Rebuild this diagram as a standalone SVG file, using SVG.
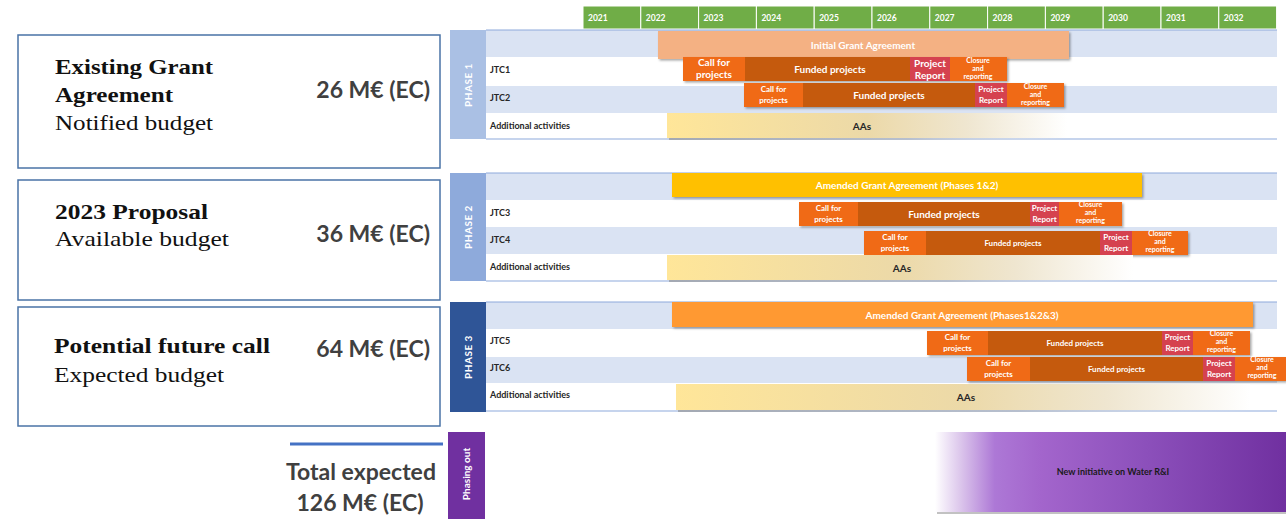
<svg xmlns="http://www.w3.org/2000/svg" width="1286" height="519" viewBox="0 0 1286 519">
<defs>
<style>
.yr{fill:#70ad47;stroke:#ffffff;stroke-width:1}
.yt{font-family:Lato,"Liberation Sans",sans-serif;font-weight:bold;font-size:8.5px;fill:#ffffff}
.rb{fill:#dae3f3}
.rw{fill:#ffffff}
.bl{stroke:#8eaadb;stroke-width:1.2}
.lbl{font-family:Lato,"Liberation Sans",sans-serif;font-weight:bold;font-size:9px;fill:#262626}
.pl{font-family:Lato,"Liberation Sans",sans-serif;font-weight:bold;font-size:10px;fill:#ffffff;letter-spacing:0.5px}
.call{fill:#f06a15}
.fund{fill:#c55a11}
.rep{fill:#d5434f}
.clo{fill:#f06a15}
.bt{font-family:Lato,"Liberation Sans",sans-serif;font-weight:bold;fill:#ffffff;text-anchor:middle}
.s10{font-size:10px}
.s8{font-size:8px}
.s7{font-size:7px}
.aa{font-family:Lato,"Liberation Sans",sans-serif;font-weight:bold;font-size:10px;fill:#262626;text-anchor:middle}
.box{fill:#ffffff;stroke:#4a73a6;stroke-width:1.5}
.sb{font-family:"Liberation Serif",serif;font-weight:bold;font-size:21px;fill:#111111}
.sr{font-family:"Liberation Serif",serif;font-size:21px;fill:#111111}
.me{font-family:Lato,"Liberation Sans",sans-serif;font-weight:bold;font-size:23px;fill:#404040;text-anchor:end}
.tot{font-family:Lato,"Liberation Sans",sans-serif;font-weight:bold;font-size:23px;fill:#404040;text-anchor:middle}
</style>
<filter id="sh" x="-5%" y="-20%" width="110%" height="150%">
<feDropShadow dx="1.5" dy="1.5" stdDeviation="1" flood-color="#000000" flood-opacity="0.35"/>
</filter>
<linearGradient id="aag" x1="0" y1="0" x2="1" y2="0">
<stop offset="0" stop-color="#ffe699"/>
<stop offset="0.5" stop-color="#ecd9a8"/>
<stop offset="0.75" stop-color="#efe6d0"/>
<stop offset="1" stop-color="#ffffff"/>
</linearGradient>
<linearGradient id="aash" x1="0" y1="0" x2="1" y2="0">
<stop offset="0" stop-color="#8c8c8c" stop-opacity="0.6"/>
<stop offset="0.6" stop-color="#a0a0a0" stop-opacity="0.4"/>
<stop offset="1" stop-color="#ffffff" stop-opacity="0"/>
</linearGradient>
<linearGradient id="pg" x1="0" y1="0" x2="1" y2="0">
<stop offset="0" stop-color="#ffffff"/>
<stop offset="0.07" stop-color="#ddc8ec"/>
<stop offset="0.17" stop-color="#ad78d6"/>
<stop offset="0.3" stop-color="#a365cc"/>
<stop offset="0.6" stop-color="#8c50bb"/>
<stop offset="1" stop-color="#7030a0"/>
</linearGradient>
</defs>

<g id="left-boxes">
<g id="box-existing">
<rect class="box" x="18" y="35" width="422" height="133"/>
<text class="sb" x="55" y="74" textLength="158" lengthAdjust="spacingAndGlyphs">Existing Grant</text>
<text class="sb" x="55" y="102" textLength="118" lengthAdjust="spacingAndGlyphs">Agreement</text>
<text class="sr" x="55" y="130" textLength="158" lengthAdjust="spacingAndGlyphs">Notified budget</text>
<text class="me" x="430" y="98">26 M€ (EC)</text>
</g>
<g id="box-2023">
<rect class="box" x="18" y="180" width="422" height="120"/>
<text class="sb" x="55" y="219" textLength="153" lengthAdjust="spacingAndGlyphs">2023 Proposal</text>
<text class="sr" x="55" y="246" textLength="174" lengthAdjust="spacingAndGlyphs">Available budget</text>
<text class="me" x="430" y="242">36 M€ (EC)</text>
</g>
<g id="box-future">
<rect class="box" x="18" y="307" width="422" height="119"/>
<text class="sb" x="54" y="353" textLength="216" lengthAdjust="spacingAndGlyphs">Potential future call</text>
<text class="sr" x="54" y="382" textLength="170" lengthAdjust="spacingAndGlyphs">Expected budget</text>
<text class="me" x="430" y="357">64 M€ (EC)</text>
</g>
<g id="total">
<line x1="290" y1="444" x2="443" y2="444" stroke="#4472c4" stroke-width="3"/>
<text class="tot" x="361" y="480">Total expected</text>
<text class="tot" x="360" y="511">126 M€ (EC)</text>
</g>
</g>

<g id="years">
<rect class="yr" x="583" y="6" width="57.8" height="23"/>
<rect class="yr" x="640.8" y="6" width="57.8" height="23"/>
<rect class="yr" x="698.6" y="6" width="57.8" height="23"/>
<rect class="yr" x="756.4" y="6" width="57.8" height="23"/>
<rect class="yr" x="814.2" y="6" width="57.8" height="23"/>
<rect class="yr" x="872" y="6" width="57.8" height="23"/>
<rect class="yr" x="929.8" y="6" width="57.8" height="23"/>
<rect class="yr" x="987.6" y="6" width="57.8" height="23"/>
<rect class="yr" x="1045.4" y="6" width="57.8" height="23"/>
<rect class="yr" x="1103.2" y="6" width="57.8" height="23"/>
<rect class="yr" x="1161" y="6" width="57.8" height="23"/>
<rect class="yr" x="1218.8" y="6" width="57.8" height="23"/>
<text class="yt" x="588" y="20.5">2021</text>
<text class="yt" x="645.8" y="20.5">2022</text>
<text class="yt" x="703.6" y="20.5">2023</text>
<text class="yt" x="761.4" y="20.5">2024</text>
<text class="yt" x="819.2" y="20.5">2025</text>
<text class="yt" x="877" y="20.5">2026</text>
<text class="yt" x="934.8" y="20.5">2027</text>
<text class="yt" x="992.6" y="20.5">2028</text>
<text class="yt" x="1050.4" y="20.5">2029</text>
<text class="yt" x="1108.2" y="20.5">2030</text>
<text class="yt" x="1166" y="20.5">2031</text>
<text class="yt" x="1223.8" y="20.5">2032</text>
</g>

<g id="phase1">
<rect x="450" y="30" width="36" height="109" fill="#aac0e4"/>
<text class="pl" transform="translate(472,85) rotate(-90)" text-anchor="middle">PHASE 1</text>
<rect class="rb" x="486" y="30" width="791" height="27"/>
<rect class="rw" x="486" y="57" width="791" height="29"/>
<rect class="rb" x="486" y="86" width="791" height="27"/>
<rect class="rw" x="486" y="113" width="791" height="26"/>
<line class="bl" x1="486" y1="30" x2="1277" y2="30"/>
<line class="bl" x1="486" y1="139" x2="1277" y2="139"/>
<text class="lbl" x="490" y="73">JTC1</text>
<text class="lbl" x="490" y="101">JTC2</text>
<text class="lbl" x="490" y="129">Additional activities</text>
<rect x="658" y="31" width="411" height="28" fill="#f4b183" filter="url(#sh)"/>
<text class="bt s10" x="863" y="48.5">Initial Grant Agreement</text>
<g filter="url(#sh)">
<rect class="call" x="683" y="57" width="62" height="24"/>
<rect class="fund" x="745" y="57" width="165" height="24"/>
<rect class="rep" x="910" y="57" width="40" height="24"/>
<rect class="clo" x="950" y="57" width="57" height="24"/>
</g>
<text class="bt s10" x="714" y="66">Call for</text>
<text class="bt s10" x="714" y="78">projects</text>
<text class="bt s10" x="830" y="73">Funded projects</text>
<text class="bt s10" x="930" y="67">Project</text>
<text class="bt s10" x="930" y="79">Report</text>
<text class="bt s7" x="978" y="63">Closure</text>
<text class="bt s7" x="978" y="71">and</text>
<text class="bt s7" x="978" y="79">reporting</text>
<g filter="url(#sh)">
<rect class="call" x="744" y="83" width="59" height="24"/>
<rect class="fund" x="803" y="83" width="172" height="24"/>
<rect class="rep" x="975" y="83" width="32" height="24"/>
<rect class="clo" x="1007" y="83" width="57" height="24"/>
</g>
<text class="bt s8" x="773.5" y="92">Call for</text>
<text class="bt s8" x="773.5" y="103">projects</text>
<text class="bt s10" x="889" y="99">Funded projects</text>
<text class="bt s8" x="991" y="92">Project</text>
<text class="bt s8" x="991" y="103">Report</text>
<text class="bt s7" x="1035.5" y="89">Closure</text>
<text class="bt s7" x="1035.5" y="97">and</text>
<text class="bt s7" x="1035.5" y="105">reporting</text>
<rect x="669" y="138" width="398" height="2" fill="url(#aash)"/>
<rect x="667" y="113" width="400" height="25" fill="url(#aag)"/>
<text class="aa" x="862" y="130">AAs</text>
</g>

<g id="phase2">
<rect x="450" y="173" width="36" height="108" fill="#8eaadb"/>
<text class="pl" transform="translate(472,227) rotate(-90)" text-anchor="middle">PHASE 2</text>
<rect class="rb" x="486" y="173" width="791" height="27"/>
<rect class="rw" x="486" y="200" width="791" height="27"/>
<rect class="rb" x="486" y="227" width="791" height="27"/>
<rect class="rw" x="486" y="254" width="791" height="27"/>
<line class="bl" x1="486" y1="173" x2="1277" y2="173"/>
<line class="bl" x1="486" y1="281" x2="1277" y2="281"/>
<text class="lbl" x="490" y="216">JTC3</text>
<text class="lbl" x="490" y="243">JTC4</text>
<text class="lbl" x="490" y="270">Additional activities</text>
<rect x="672" y="173" width="470" height="24" fill="#ffc000" filter="url(#sh)"/>
<text class="bt s10" x="907" y="189">Amended Grant Agreement (Phases 1&amp;2)</text>
<g filter="url(#sh)">
<rect class="call" x="799" y="202" width="59" height="24"/>
<rect class="fund" x="858" y="202" width="172" height="24"/>
<rect class="rep" x="1030" y="202" width="29" height="24"/>
<rect class="clo" x="1059" y="202" width="63" height="24"/>
</g>
<text class="bt s8" x="828.5" y="211">Call for</text>
<text class="bt s8" x="828.5" y="222">projects</text>
<text class="bt s10" x="944" y="218">Funded projects</text>
<text class="bt s8" x="1044.5" y="211">Project</text>
<text class="bt s8" x="1044.5" y="222">Report</text>
<text class="bt s7" x="1090.5" y="207">Closure</text>
<text class="bt s7" x="1090.5" y="215">and</text>
<text class="bt s7" x="1090.5" y="223">reporting</text>
<g filter="url(#sh)">
<rect class="call" x="864" y="231" width="62" height="24"/>
<rect class="fund" x="926" y="231" width="174" height="24"/>
<rect class="rep" x="1100" y="231" width="32" height="24"/>
<rect class="clo" x="1132" y="231" width="56" height="24"/>
</g>
<text class="bt s8" x="895" y="240">Call for</text>
<text class="bt s8" x="895" y="251">projects</text>
<text class="bt s8" x="1013" y="246">Funded projects</text>
<text class="bt s8" x="1116" y="240">Project</text>
<text class="bt s8" x="1116" y="251">Report</text>
<text class="bt s7" x="1160" y="236">Closure</text>
<text class="bt s7" x="1160" y="244">and</text>
<text class="bt s7" x="1160" y="252">reporting</text>
<rect x="669" y="280" width="464" height="2" fill="url(#aash)"/>
<rect x="667" y="255" width="466" height="25" fill="url(#aag)"/>
<text class="aa" x="902" y="272">AAs</text>
</g>

<g id="phase3">
<rect x="450" y="302" width="36" height="110" fill="#2f5597"/>
<text class="pl" transform="translate(472,357) rotate(-90)" text-anchor="middle">PHASE 3</text>
<rect class="rb" x="486" y="302" width="791" height="27"/>
<rect class="rw" x="486" y="329" width="791" height="28"/>
<rect class="rb" x="486" y="357" width="791" height="26"/>
<rect class="rw" x="486" y="383" width="791" height="28"/>
<line class="bl" x1="486" y1="302" x2="1277" y2="302"/>
<line class="bl" x1="486" y1="411" x2="1277" y2="411"/>
<text class="lbl" x="490" y="344">JTC5</text>
<text class="lbl" x="490" y="371">JTC6</text>
<text class="lbl" x="490" y="398">Additional activities</text>
<rect x="672" y="302" width="581" height="25" fill="#ff9933" filter="url(#sh)"/>
<text class="bt s10" x="962" y="318.5">Amended Grant Agreement (Phases1&amp;2&amp;3)</text>
<g filter="url(#sh)">
<rect class="call" x="927" y="331" width="61" height="24"/>
<rect class="fund" x="988" y="331" width="174" height="24"/>
<rect class="rep" x="1162" y="331" width="31" height="24"/>
<rect class="clo" x="1193" y="331" width="57" height="24"/>
</g>
<text class="bt s8" x="957.5" y="340">Call for</text>
<text class="bt s8" x="957.5" y="351">projects</text>
<text class="bt s8" x="1075" y="346">Funded projects</text>
<text class="bt s8" x="1177.5" y="340">Project</text>
<text class="bt s8" x="1177.5" y="351">Report</text>
<text class="bt s7" x="1221.5" y="336">Closure</text>
<text class="bt s7" x="1221.5" y="344">and</text>
<text class="bt s7" x="1221.5" y="352">reporting</text>
<g filter="url(#sh)">
<rect class="call" x="967" y="357" width="63" height="24"/>
<rect class="fund" x="1030" y="357" width="173" height="24"/>
<rect class="rep" x="1203" y="357" width="32" height="24"/>
<rect class="clo" x="1235" y="357" width="51" height="24"/>
</g>
<text class="bt s8" x="998.5" y="366">Call for</text>
<text class="bt s8" x="998.5" y="377">projects</text>
<text class="bt s8" x="1116.5" y="372">Funded projects</text>
<text class="bt s8" x="1219" y="366">Project</text>
<text class="bt s8" x="1219" y="377">Report</text>
<text class="bt s7" x="1262" y="362">Closure</text>
<text class="bt s7" x="1262" y="370">and</text>
<text class="bt s7" x="1262" y="378">reporting</text>
<rect x="678" y="410" width="572" height="2" fill="url(#aash)"/>
<rect x="676" y="384" width="574" height="26" fill="url(#aag)"/>
<text class="aa" x="966" y="401">AAs</text>
</g>

<g id="phasing-out">
<rect x="448" y="432" width="37" height="87" fill="#7030a0"/>
<text class="pl" transform="translate(470,474) rotate(-90)" text-anchor="middle" style="letter-spacing:0">Phasing out</text>
<rect x="937" y="512" width="349" height="2" fill="#9a9a9a" opacity="0.6"/>
<rect x="935" y="432" width="351" height="80" fill="url(#pg)"/>
<text class="aa" x="1113" y="475" style="font-size:9px;fill:#1a1a1a">New initiative on Water R&amp;I</text>
</g>

<g id="connectors"/>
</svg>
